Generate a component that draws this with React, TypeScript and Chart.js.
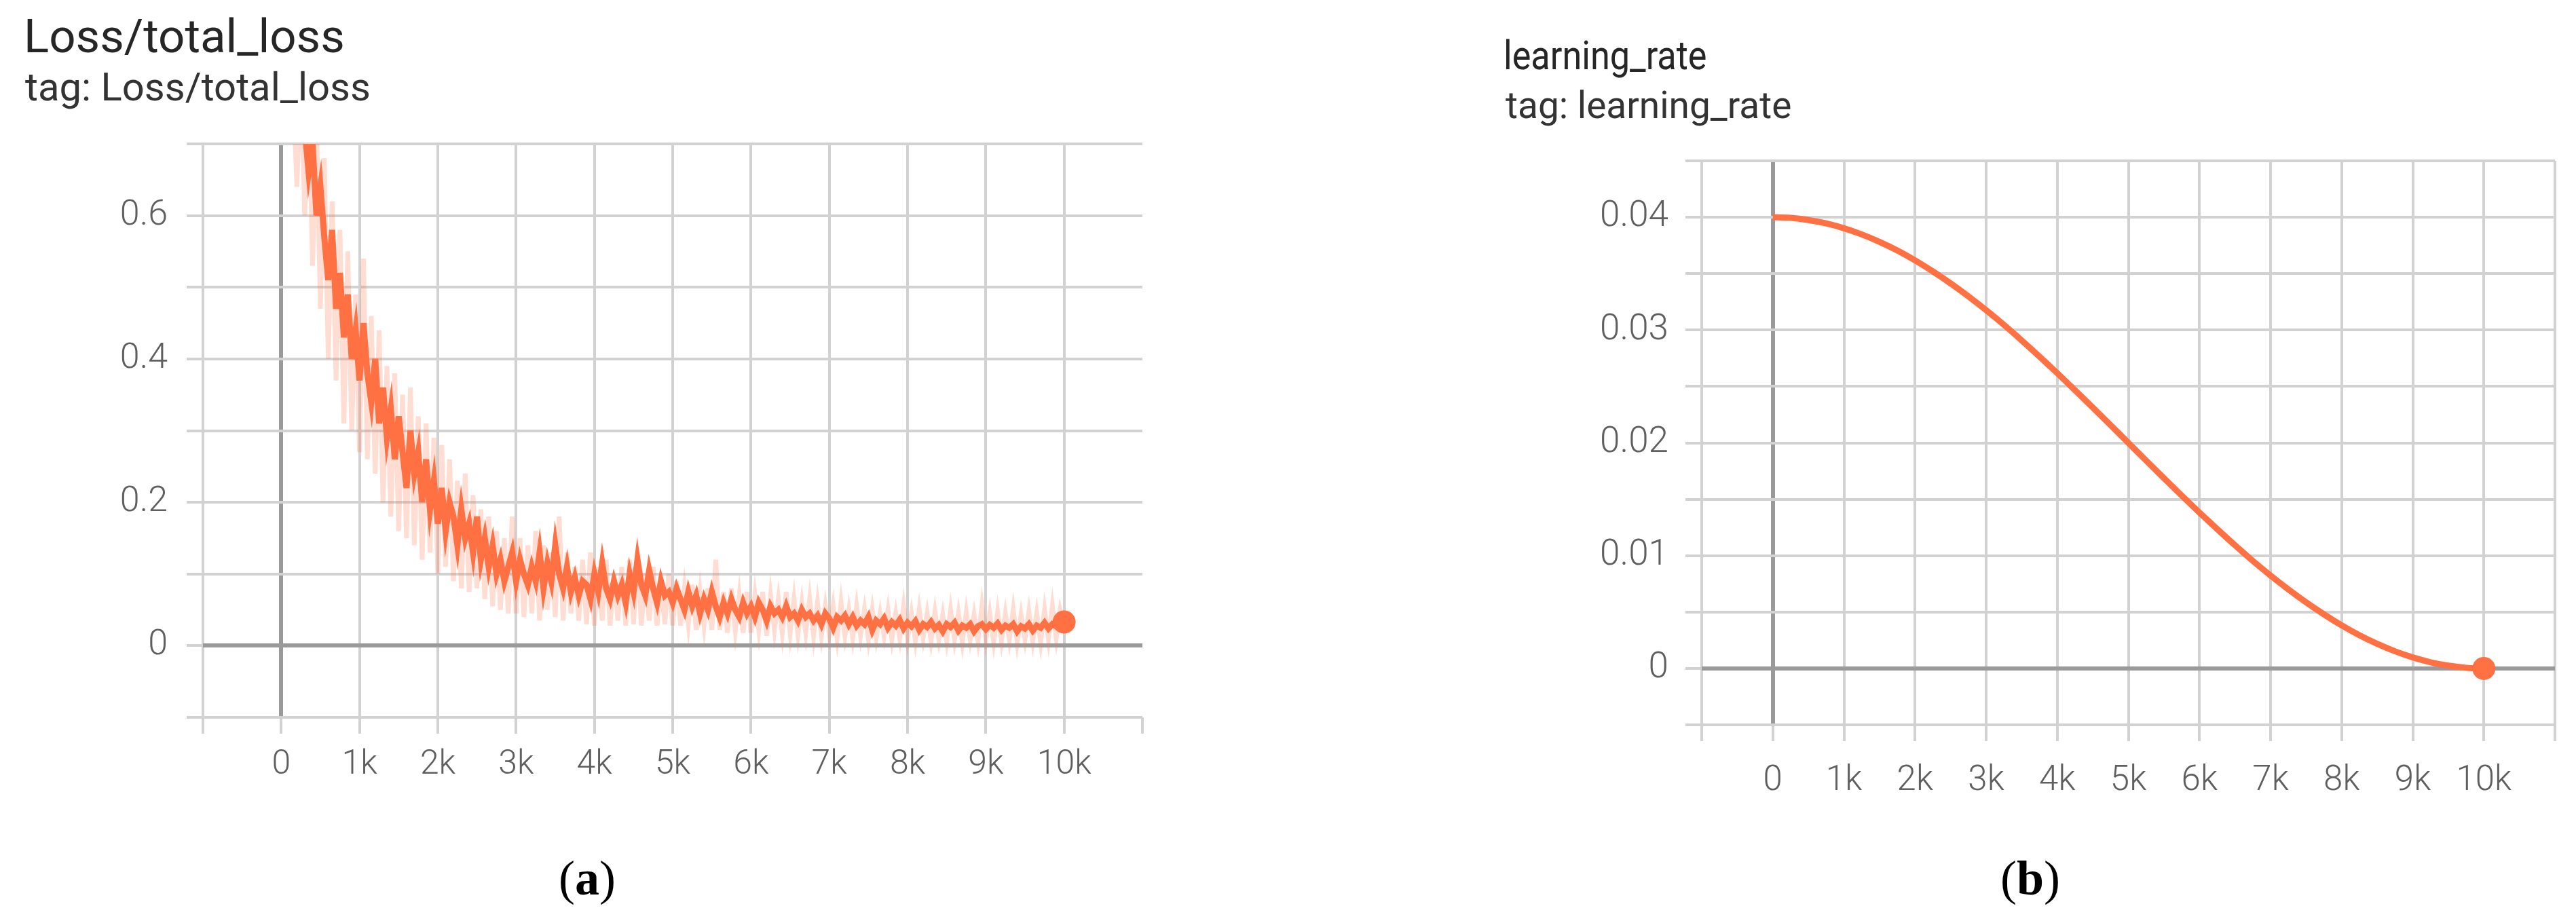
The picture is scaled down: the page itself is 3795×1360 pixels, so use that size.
import React, { useEffect, useRef } from 'react';
import { Chart, registerables } from 'chart.js';

Chart.register(...registerables);

// ---------- data ----------
const lossRawSteps = [
  100, 150, 200, 250, 300, 350, 400, 450, 500, 550, 600, 650, 700, 750, 800, 850, 900, 950, 1000,
  1050, 1100, 1150, 1200, 1250, 1300, 1350, 1400, 1450, 1500, 1550, 1600, 1650, 1700, 1750, 1800, 1850, 1900, 1950, 2000,
  2050, 2100, 2150, 2200, 2250, 2300, 2350, 2400, 2450, 2500, 2550, 2600, 2650, 2700, 2750, 2800, 2850, 2900, 2950, 3000,
  3050, 3100, 3150, 3200, 3250, 3300, 3350, 3400, 3450, 3500, 3550, 3600, 3650, 3700, 3750, 3800, 3850, 3900, 3950, 4000,
  4050, 4100, 4150, 4200, 4250, 4300, 4350, 4400, 4450, 4500, 4550, 4600, 4650, 4700, 4750, 4800, 4850, 4900, 4950, 5000,
  5050, 5100, 5150, 5200, 5250, 5300, 5350, 5400, 5450, 5500, 5550, 5600, 5650, 5700, 5750, 5800, 5850, 5900, 5950, 6000,
  6050, 6100, 6150, 6200, 6250, 6300, 6350, 6400, 6450, 6500, 6550, 6600, 6650, 6700, 6750, 6800, 6850, 6900, 6950, 7000,
  7050, 7100, 7150, 7200, 7250, 7300, 7350, 7400, 7450, 7500, 7550, 7600, 7650, 7700, 7750, 7800, 7850, 7900, 7950, 8000,
  8050, 8100, 8150, 8200, 8250, 8300, 8350, 8400, 8450, 8500, 8550, 8600, 8650, 8700, 8750, 8800, 8850, 8900, 8950, 9000,
  9050, 9100, 9150, 9200, 9250, 9300, 9350, 9400, 9450, 9500, 9550, 9600, 9650, 9700, 9750, 9800, 9850, 9900, 9950, 10000,
];
const lossRawValues = [
  0.85, 0.78, 0.64, 0.8, 0.6, 0.78, 0.53, 0.74, 0.47, 0.68, 0.4, 0.62, 0.37, 0.58, 0.31, 0.55, 0.3, 0.49, 0.27,
  0.54, 0.26, 0.46, 0.24, 0.44, 0.2, 0.39, 0.18, 0.38, 0.16, 0.35, 0.15, 0.36, 0.14, 0.32, 0.12, 0.31, 0.13, 0.29, 0.1,
  0.28, 0.11, 0.26, 0.09, 0.23, 0.08, 0.24, 0.075, 0.21, 0.08, 0.19, 0.065, 0.18, 0.055, 0.16, 0.05, 0.15, 0.045, 0.18, 0.045,
  0.15, 0.04, 0.14, 0.045, 0.16, 0.035, 0.14, 0.05, 0.13, 0.04, 0.18, 0.035, 0.13, 0.045, 0.11, 0.035, 0.12, 0.03, 0.13, 0.028,
  0.11, 0.035, 0.12, 0.028, 0.1, 0.035, 0.11, 0.028, 0.12, 0.03, 0.13, 0.028, 0.1, 0.035, 0.11, 0.028, 0.09, 0.03, 0.1, 0.028,
  0.09, 0.028, 0.08, 0.03, 0.085, 0.022, 0.075, 0.028, 0.08, 0.022, 0.12, 0.022, 0.075, 0.018, 0.08, 0.022, 0.07, 0.018, 0.075, 0.018,
  0.07, 0.022, 0.075, 0.014, 0.07, 0.022, 0.065, 0.018, 0.075, 0.018, 0.065, 0.016, 0.06, 0.018, 0.065, 0.014, 0.06, 0.014, 0.055, 0.016,
  0.055, 0.011, 0.06, 0.014, 0.05, 0.011, 0.055, 0.014, 0.05, 0.009, 0.05, 0.011, 0.045, 0.014, 0.05, 0.009, 0.045, 0.011, 0.055, 0.009,
  0.045, 0.007, 0.05, 0.011, 0.045, 0.007, 0.047, 0.009, 0.043, 0.007, 0.05, 0.009, 0.045, 0.005, 0.047, 0.009, 0.043, 0.007, 0.055, 0.009,
  0.045, 0.005, 0.047, 0.007, 0.045, 0.009, 0.05, 0.005, 0.043, 0.009, 0.047, 0.007, 0.045, 0.005, 0.05, 0.009, 0.055, 0.011, 0.05, 0.03,
];

const lossSmoothSteps = [
  300, 350, 400, 450, 500, 550, 600, 650, 700, 750, 800, 850, 900, 950, 1000,
  1050, 1100, 1150, 1200, 1250, 1300, 1350, 1400, 1450, 1500, 1550, 1600, 1650, 1700, 1750, 1800, 1850, 1900, 1950, 2000,
  2050, 2100, 2150, 2200, 2250, 2300, 2350, 2400, 2450, 2500, 2550, 2600, 2650, 2700, 2750, 2800, 2850, 2900, 2950, 3000,
  3050, 3100, 3150, 3200, 3250, 3300, 3350, 3400, 3450, 3500, 3550, 3600, 3650, 3700, 3750, 3800, 3850, 3900, 3950, 4000,
  4050, 4100, 4150, 4200, 4250, 4300, 4350, 4400, 4450, 4500, 4550, 4600, 4650, 4700, 4750, 4800, 4850, 4900, 4950, 5000,
  5050, 5100, 5150, 5200, 5250, 5300, 5350, 5400, 5450, 5500, 5550, 5600, 5650, 5700, 5750, 5800, 5850, 5900, 5950, 6000,
  6050, 6100, 6150, 6200, 6250, 6300, 6350, 6400, 6450, 6500, 6550, 6600, 6650, 6700, 6750, 6800, 6850, 6900, 6950, 7000,
  7050, 7100, 7150, 7200, 7250, 7300, 7350, 7400, 7450, 7500, 7550, 7600, 7650, 7700, 7750, 7800, 7850, 7900, 7950, 8000,
  8050, 8100, 8150, 8200, 8250, 8300, 8350, 8400, 8450, 8500, 8550, 8600, 8650, 8700, 8750, 8800, 8850, 8900, 8950, 9000,
  9050, 9100, 9150, 9200, 9250, 9300, 9350, 9400, 9450, 9500, 9550, 9600, 9650, 9700, 9750, 9800, 9850, 9900, 9950, 10000,
];
const lossSmoothValues = [
  0.72, 0.66, 0.7, 0.6, 0.64, 0.57, 0.51, 0.58, 0.47, 0.52, 0.43, 0.49, 0.4, 0.44, 0.37,
  0.45, 0.38, 0.34, 0.4, 0.31, 0.36, 0.29, 0.33, 0.26, 0.32, 0.27, 0.22, 0.3, 0.24, 0.27, 0.2, 0.26, 0.19, 0.23, 0.17,
  0.22, 0.16, 0.2, 0.18, 0.14, 0.19, 0.15, 0.17, 0.13, 0.18, 0.12, 0.15, 0.11, 0.14, 0.1, 0.12, 0.09, 0.11, 0.13, 0.09,
  0.12, 0.1, 0.085, 0.11, 0.09, 0.13, 0.08, 0.115, 0.09, 0.14, 0.1, 0.08, 0.11, 0.075, 0.095, 0.07, 0.09, 0.085, 0.065, 0.1,
  0.075, 0.115, 0.08, 0.065, 0.09, 0.07, 0.085, 0.06, 0.1, 0.075, 0.12, 0.085, 0.07, 0.105, 0.08, 0.06, 0.09, 0.07, 0.075, 0.06,
  0.08, 0.065, 0.05, 0.075, 0.055, 0.07, 0.045, 0.065, 0.05, 0.075, 0.055, 0.04, 0.06, 0.045, 0.065, 0.05, 0.04, 0.06, 0.045, 0.055,
  0.04, 0.06, 0.05, 0.035, 0.055, 0.045, 0.05, 0.04, 0.055, 0.04, 0.045, 0.035, 0.05, 0.04, 0.045, 0.035, 0.042, 0.03, 0.045, 0.038,
  0.025, 0.04, 0.035, 0.042, 0.03, 0.04, 0.028, 0.035, 0.03, 0.04, 0.022, 0.035, 0.03, 0.038, 0.025, 0.033, 0.028, 0.036, 0.024, 0.032,
  0.027, 0.034, 0.022, 0.03, 0.026, 0.033, 0.024, 0.029, 0.02, 0.03, 0.026, 0.032, 0.021, 0.028, 0.025, 0.03, 0.02, 0.027, 0.03, 0.023,
  0.029, 0.025, 0.031, 0.022, 0.028, 0.025, 0.03, 0.02, 0.027, 0.024, 0.03, 0.021, 0.028, 0.025, 0.032, 0.024, 0.03, 0.027, 0.035, 0.033,
];

const lrSteps = [
  0, 250, 500, 750, 1000, 1250, 1500, 1750, 2000, 2250,
  2500, 2750, 3000, 3250, 3500, 3750, 4000, 4250, 4500, 4750,
  5000, 5250, 5500, 5750, 6000, 6250, 6500, 6750, 7000, 7250,
  7500, 7750, 8000, 8250, 8500, 8750, 9000, 9250, 9500, 9750, 10000,
];
const lrValues = [
  0.04, 0.03994, 0.03975, 0.03945, 0.03902, 0.03848, 0.03782, 0.03706, 0.03618, 0.0352,
  0.03414, 0.03299, 0.03176, 0.03046, 0.02908, 0.02765, 0.02618, 0.02467, 0.02313, 0.02157,
  0.02, 0.01843, 0.01687, 0.01533, 0.01382, 0.01235, 0.01092, 0.00954, 0.00824, 0.00701,
  0.00586, 0.0048, 0.00382, 0.00294, 0.00218, 0.00152, 0.00098, 0.00055, 0.00025, 0.00006, 0.0,
];

const xTickValues = [0, 1000, 2000, 3000, 4000, 5000, 6000, 7000, 8000, 9000, 10000];
const xTickLabels = ['0', '1k', '2k', '3k', '4k', '5k', '6k', '7k', '8k', '9k', '10k'];
const lossYTickValues = [0, 0.2, 0.4, 0.6];
const lossYTickLabels = ['0', '0.2', '0.4', '0.6'];
const lrYTickValues = [0, 0.01, 0.02, 0.03, 0.04];
const lrYTickLabels = ['0', '0.01', '0.02', '0.03', '0.04'];

// ---------- styling ----------
const ORANGE = '#ff7043';
const ORANGE_LIGHT = 'rgba(255,112,67,0.24)';
const GRID = '#d2d2d2';
const ZERO = '#9a9a9a';
const TICK_COLOR = '#5f5f5f';

function labelFor(values: number[], labels: string[], v: number): string {
  for (let i = 0; i < values.length; i++) {
    if (Math.abs(values[i] - v) < 1e-9) return labels[i];
  }
  return '';
}

function pts(xs: number[], ys: number[]) {
  return xs.map((x, i) => ({ x, y: ys[i] }));
}

type ChartProps = {
  left: number;
  top: number;
  width: number;
  height: number;
  makeConfig: () => any;
};

function ChartCanvas({ left, top, width, height, makeConfig }: ChartProps) {
  const ref = useRef<HTMLCanvasElement | null>(null);
  useEffect(() => {
    if (!ref.current) return;
    const chart = new Chart(ref.current, makeConfig());
    return () => chart.destroy();
  }, []);
  return (
    <canvas
      ref={ref}
      width={width}
      height={height}
      style={{ position: 'absolute', left, top, width, height }}
    />
  );
}

function gridOpts(hideMaxGrid: number | null) {
  return {
    drawTicks: true,
    tickLength: 24,
    tickWidth: 4,
    tickColor: GRID,
    color: (ctx: any) => {
      const v = ctx.tick ? ctx.tick.value : null;
      if (hideMaxGrid !== null && v !== null && Math.abs(v - hideMaxGrid) < 1e-9) return 'rgba(0,0,0,0)';
      return v !== null && Math.abs(v) < 1e-12 ? ZERO : GRID;
    },
    lineWidth: (ctx: any) => {
      const v = ctx.tick ? ctx.tick.value : null;
      return v !== null && Math.abs(v) < 1e-12 ? 6 : 4;
    },
  };
}

function lossConfig() {
  const last = lossSmoothSteps.length - 1;
  return {
    type: 'line',
    data: {
      datasets: [
        {
          data: pts(lossSmoothSteps, lossSmoothValues),
          borderColor: ORANGE,
          backgroundColor: ORANGE,
          borderWidth: 9,
          pointRadius: (ctx: any) => (ctx.dataIndex === last ? 17 : 0),
          pointBorderWidth: 0,
          tension: 0,
          clip: 0,
          order: 0,
        },
        {
          data: pts(lossRawSteps, lossRawValues),
          borderColor: ORANGE_LIGHT,
          borderWidth: 7,
          pointRadius: 0,
          tension: 0,
          clip: 0,
          order: 1,
        },
      ],
    },
    options: {
      animation: false,
      responsive: false,
      devicePixelRatio: 1,
      layout: { padding: { top: 62, right: 37, left: 0, bottom: 0 } },
      plugins: { legend: { display: false }, tooltip: { enabled: false } },
      scales: {
        x: {
          type: 'linear',
          min: -1000,
          max: 11000,
          border: { display: false },
          grid: gridOpts(11000),
          ticks: {
            stepSize: 1000,
            autoSkip: false,
            maxRotation: 0,
            padding: 16,
            color: TICK_COLOR,
            font: { family: 'Roboto', size: 50, weight: '300' },
            callback: (v: number) => labelFor(xTickValues, xTickLabels, v),
          },
          afterFit: (s: any) => {
            s.height = 143;
          },
        },
        y: {
          type: 'linear',
          min: -0.1,
          max: 0.7,
          border: { display: false },
          grid: gridOpts(null),
          ticks: {
            stepSize: 0.1,
            autoSkip: false,
            padding: 28,
            color: TICK_COLOR,
            font: { family: 'Roboto', size: 52, weight: '300' },
            callback: (v: number) => labelFor(lossYTickValues, lossYTickLabels, v),
          },
          afterFit: (s: any) => {
            s.width = 299;
          },
        },
      },
    },
  };
}

function lrConfig() {
  const last = lrSteps.length - 1;
  return {
    type: 'line',
    data: {
      datasets: [
        {
          data: pts(lrSteps, lrValues),
          borderColor: ORANGE,
          backgroundColor: ORANGE,
          borderWidth: 9,
          pointRadius: (ctx: any) => (ctx.dataIndex === last ? 17 : 0),
          pointBorderWidth: 0,
          cubicInterpolationMode: 'monotone',
          clip: 0,
        },
      ],
    },
    options: {
      animation: false,
      responsive: false,
      devicePixelRatio: 1,
      layout: { padding: { top: 87, right: 31, left: 0, bottom: 0 } },
      plugins: { legend: { display: false }, tooltip: { enabled: false } },
      scales: {
        x: {
          type: 'linear',
          min: -1000,
          max: 11000,
          border: { display: false },
          grid: gridOpts(null),
          ticks: {
            stepSize: 1000,
            autoSkip: false,
            maxRotation: 0,
            padding: 29,
            color: TICK_COLOR,
            font: { family: 'Roboto', size: 51, weight: '300' },
            callback: (v: number) => labelFor(xTickValues, xTickLabels, v),
          },
          afterFit: (s: any) => {
            s.height = 132;
          },
        },
        y: {
          type: 'linear',
          min: -0.005,
          max: 0.045,
          border: { display: false },
          grid: gridOpts(null),
          ticks: {
            stepSize: 0.005,
            autoSkip: false,
            padding: 25,
            color: TICK_COLOR,
            font: { family: 'Roboto', size: 53, weight: '300' },
            callback: (v: number) => labelFor(lrYTickValues, lrYTickLabels, v),
          },
          afterFit: (s: any) => {
            s.width = 307;
          },
        },
      },
    },
  };
}

const textBase: React.CSSProperties = {
  position: 'absolute',
  fontFamily: 'Roboto, sans-serif',
  lineHeight: 1,
  whiteSpace: 'nowrap',
  color: '#262626',
};

const capBase: React.CSSProperties = {
  position: 'absolute',
  fontFamily: '"Liberation Serif", "Times New Roman", serif',
  fontSize: 72,
  lineHeight: 1,
  whiteSpace: 'nowrap',
  color: '#000',
  transform: 'translateX(-50%)',
};

export default function App() {
  useEffect(() => {
    document.body.style.margin = '0';
  }, []);
  return (
    <div
      style={{
        position: 'absolute',
        left: 0,
        top: 0,
        width: 3795,
        height: 1360,
        background: '#fff',
        overflow: 'hidden',
      }}
    >
      <div style={{ ...textBase, left: 35, top: 19, fontSize: 69 }}>Loss/total_loss</div>
      <div style={{ ...textBase, left: 37, top: 99, fontSize: 58, color: '#333' }}>tag: Loss/total_loss</div>
      <ChartCanvas left={0} top={150} width={1720} height={1050} makeConfig={lossConfig} />

      <div
        style={{
          ...textBase,
          left: 2215,
          top: 52,
          fontSize: 60,
          transform: 'scaleX(0.87)',
          transformOrigin: 'left top',
        }}
      >
        learning_rate
      </div>
      <div style={{ ...textBase, left: 2218, top: 128, fontSize: 55, color: '#333' }}>tag: learning_rate</div>
      <ChartCanvas left={2200} top={150} width={1595} height={1050} makeConfig={lrConfig} />

      <div style={{ ...capBase, left: 865, top: 1258 }}>
        (<b>a</b>)
      </div>
      <div style={{ ...capBase, left: 2991, top: 1258 }}>
        (<b>b</b>)
      </div>
    </div>
  );
}
